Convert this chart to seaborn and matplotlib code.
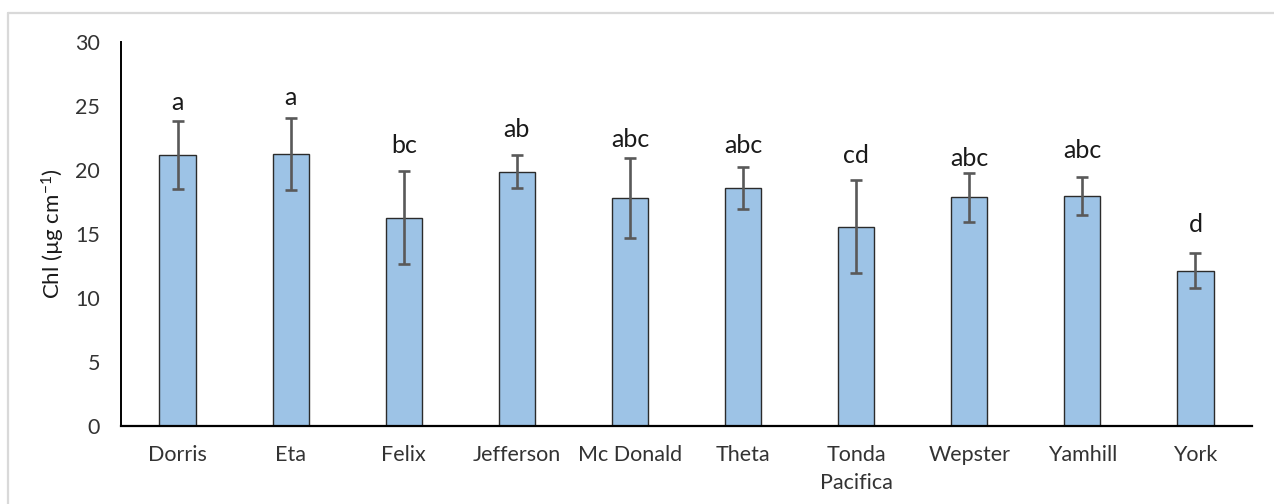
import matplotlib
matplotlib.use("Agg")
import matplotlib.pyplot as plt
from matplotlib.lines import Line2D
import numpy as np
import pandas as pd
import seaborn as sns

# Chlorophyll content per cultivar (mean ± SE) with significance letters
cultivars = ["Dorris", "Eta", "Felix", "Jefferson", "Mc Donald", "Theta",
             "Tonda\nPacifica", "Wepster", "Yamhill", "York"]
chl_mean = [21.17, 21.22, 16.27, 19.87, 17.79, 18.62, 15.57, 17.87, 17.97, 12.13]
chl_err = [2.68, 2.82, 3.64, 1.29, 3.12, 1.64, 3.63, 1.92, 1.48, 1.37]
groups = ["a", "a", "bc", "ab", "abc", "abc", "cd", "abc", "abc", "d"]
group_y = [24.7, 25.1, 21.35, 22.6, 21.8, 21.35, 20.55, 20.3, 20.9, 15.15]
y_ticks = [0, 5, 10, 15, 20, 25, 30]

sns.set_theme(style="white")
plt.rcParams["font.family"] = ["Lato", "DejaVu Sans"]
plt.rcParams["mathtext.fontset"] = "custom"
plt.rcParams["mathtext.rm"] = "Lato"
plt.rcParams["mathtext.default"] = "regular"

df = pd.DataFrame({"cultivar": cultivars, "chl": chl_mean})

fig = plt.figure(figsize=(12.74, 5.04), dpi=100)
ax = fig.add_axes([121 / 1274, 1 - 426 / 504, (1252 - 121) / 1274, (426 - 42) / 504])

sns.barplot(data=df, x="cultivar", y="chl", ax=ax, color="#9DC3E6",
            saturation=1, width=0.32, edgecolor="#2B2B2B", linewidth=1.0,
            errorbar=None)

x = np.arange(len(cultivars))
ax.errorbar(x, chl_mean, yerr=chl_err, fmt="none", ecolor="#595959",
            elinewidth=1.9, capsize=4.3, capthick=1.9, zorder=5)

for xi, lab, gy in zip(x, groups, group_y):
    ax.text(xi, gy, lab, ha="center", va="baseline", fontsize=18,
            color="#1a1a1a")

ax.set_xlim(-0.5, len(cultivars) - 0.5)
ax.set_ylim(0, 30)
ax.set_yticks(y_ticks)
ax.set_xlabel("")
ax.set_ylabel("Chl (µg cm$^{-1}$)", fontsize=16, color="#1a1a1a")
ax.yaxis.set_label_coords(-0.06, 0.5)
ax.yaxis.label.set_va("center")

ax.tick_params(axis="y", length=0, pad=15, labelsize=15.5, labelcolor="#333333")
ax.tick_params(axis="x", length=0, pad=14, labelsize=15.5, labelcolor="#333333")
for lbl in ax.get_xticklabels():
    lbl.set_linespacing(1.5)

for side in ["top", "right"]:
    ax.spines[side].set_visible(False)
ax.spines["left"].set_color("black")
ax.spines["left"].set_linewidth(1.4)
ax.spines["bottom"].set_color("black")
ax.spines["bottom"].set_linewidth(1.6)

# Light frame around the chart area
fx = 8 / 1274
fy = 1 - 13 / 504
fig.add_artist(Line2D([fx, 1], [fy, fy], transform=fig.transFigure,
                      color="#D9D9D9", linewidth=1.6))
fig.add_artist(Line2D([fx, fx], [0, fy], transform=fig.transFigure,
                      color="#D9D9D9", linewidth=1.6))

fig.savefig("out.png", dpi=100, facecolor="white")
